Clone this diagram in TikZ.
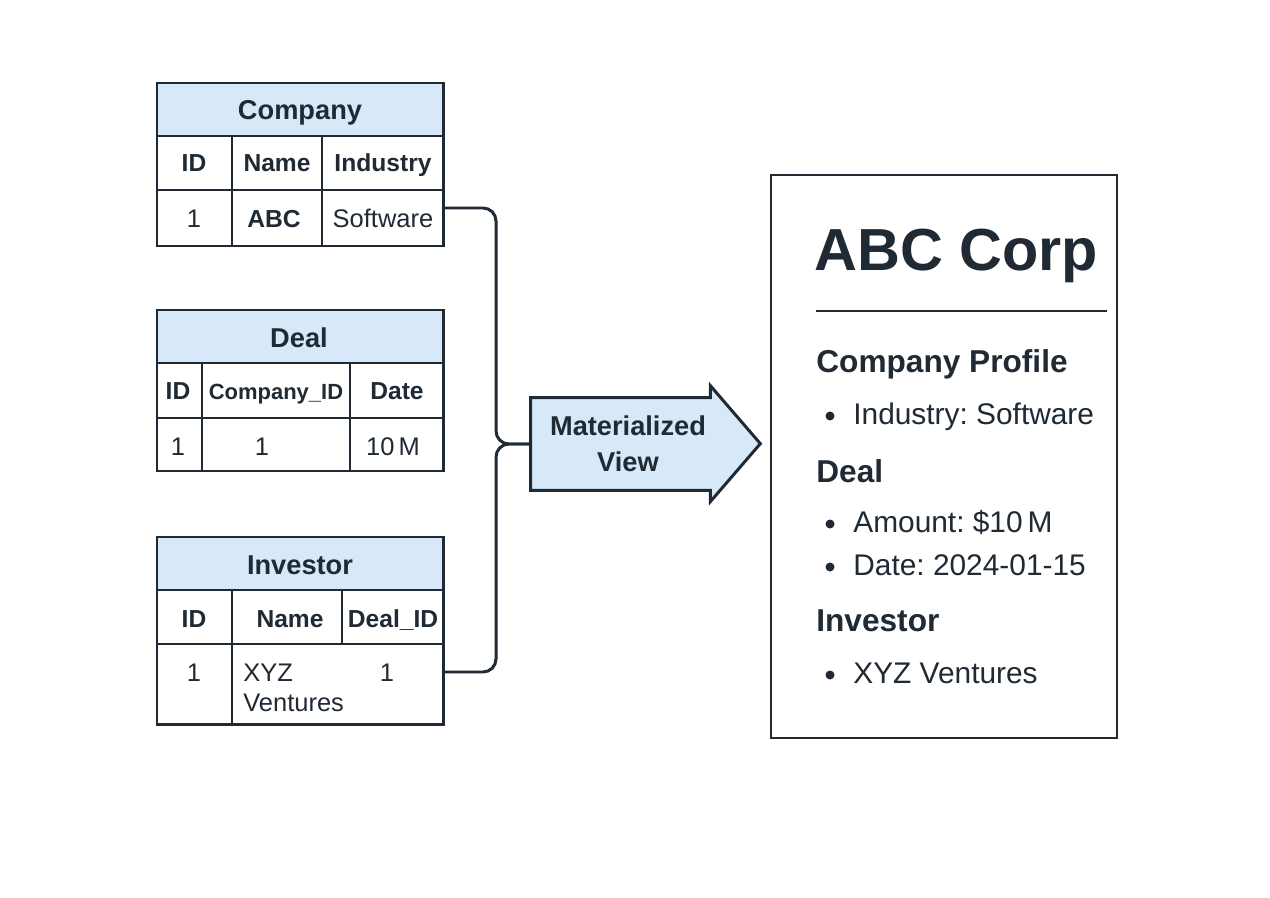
\documentclass[tikz,border=0pt]{standalone}
\usepackage{fontspec}
\setmainfont{Liberation Sans}
\usepackage{tikz}
\usetikzlibrary{positioning}
\frenchspacing

\definecolor{ink}{HTML}{1F2A35}
\definecolor{hdrblue}{HTML}{D7E9F8}

\tikzset{
  tbl/.style={draw=ink, line width=1.7pt},
  link/.style={draw=ink, line width=1.7pt, rounded corners=0.26cm},
  tbltitle/.style={font=\bfseries\fontsize{15.5}{18}\selectfont},
  colhead/.style={font=\bfseries\fontsize{14}{17}\selectfont},
  valcell/.style={font=\fontsize{14.5}{17}\selectfont},
  secthead/.style={anchor=base west, font=\bfseries\fontsize{18}{22}\selectfont},
  listitem/.style={anchor=base west, font=\fontsize{17}{20}\selectfont},
  bulletdot/.style={fill=ink},
}

\begin{document}
\begin{tikzpicture}[x=0.02cm, y=-0.02cm, every node/.style = {anchor=base, inner sep=0pt, text=ink}]
  \fill[white] (0,0) rectangle (1270,898);
  \useasboundingbox (0,0) rectangle (1270,898);

  % Company table
  \filldraw[tbl, fill=hdrblue] (157,83) rectangle (443,136);
  \draw[tbl] (157,136) rectangle (443,246);
  \draw[tbl] (157,190) -- (443,190) (232,136) -- (232,246) (322,136) -- (322,246);
  \node[tbltitle] (companyTitle) at (300,120) {Company};
  \node[colhead] (companyId) at (194,172) {ID};
  \node[colhead] (companyName) at (277,172) {Name};
  \node[colhead] (companyInd) at (383,172) {Industry};
  \node[valcell] (companyIdVal) at (194,228) {1};
  \node[valcell, font=\bfseries\fontsize{14}{17}\selectfont] (companyNameVal) at (274,228) {ABC};
  \node[valcell] (companyIndVal) at (383,228) {Software};
  \coordinate (companyOut) at (443,208);

  % Deal table
  \filldraw[tbl, fill=hdrblue] (157,310) rectangle (443,363);
  \draw[tbl] (157,363) rectangle (443,471);
  \draw[tbl] (157,418) -- (443,418) (202,363) -- (202,471) (350,363) -- (350,471);
  \node[tbltitle] (dealTitle) at (299,347) {Deal};
  \node[colhead] (dealId) at (178,399) {ID};
  \node[colhead, font=\bfseries\fontsize{12.5}{15}\selectfont] (dealCompany) at (276,399) {Company\_ID};
  \node[colhead] (dealDate) at (397,399) {Date};
  \node[valcell] (dealIdVal) at (178,455) {1};
  \node[valcell] (dealCompanyVal) at (262,455) {1};
  \node[valcell] (dealDateVal) at (393,455) {10\,M};

  % Investor table
  \filldraw[tbl, fill=hdrblue] (157,537) rectangle (443,590);
  \draw[tbl] (157,590) rectangle (443,724);
  \draw[tbl] (157,644) -- (443,644) (232,590) -- (232,724) (342,590) -- (342,644);
  \node[tbltitle] (investorTitle) at (300,574) {Investor};
  \node[colhead] (investorId) at (194,627) {ID};
  \node[colhead] (investorName) at (290,627) {Name};
  \node[colhead] (investorDeal) at (393,627) {Deal\_ID};
  \node[valcell] (investorIdVal) at (194,681) {1};
  \node[valcell, anchor=base west] (investorNameA) at (243,681) {XYZ};
  \node[valcell, anchor=base west] (investorNameB) at (243,711) {Ventures};
  \node[valcell] (investorDealVal) at (387,681) {1};
  \coordinate (investorOut) at (443,672);

  % materialized view arrow
  \node[anchor=center, minimum width=3.58cm, minimum height=1.84cm] (mview) at (620.5,444) {};
  \filldraw[tbl, fill=hdrblue, line join=miter]
    (mview.north west) -- (mview.north east) -- ++(0,-12) -- ++(50,58)
    -- ++(-50,58) -- (mview.south east) -- (mview.south west) -- cycle;
  \node[anchor=center, align=center, font=\bfseries\fontsize{15.5}{20.4}\selectfont] (mviewText) at (628,444) {Materialized\\View};

  % connectors
  \draw[link] (companyOut) -- ++(53,0) |- (mview.west);
  \draw[link] (investorOut) -- ++(53,0) |- (mview.west);

  % result page
  \draw[tbl, line width=1.5pt] (771,175) rectangle (1117,738);
  \node[anchor=base west, font=\bfseries\fontsize{33.8}{38}\selectfont] (pageTitle) at (814,271) {ABC Corp};
  \draw[ink, line width=1.4pt] (816,311) -- (1107,311);
  \node[secthead] (profileHead) at (816,372) {Company Profile};
  \fill[bulletdot] (830,416) circle (4.5);
  \node[listitem] (profileInd) at (853,424) {Industry: Software};
  \node[secthead] (dealHead) at (816,482) {Deal};
  \fill[bulletdot] (830,524) circle (4.5);
  \node[listitem] (dealAmount) at (853,532) {Amount: \$10\,M};
  \fill[bulletdot] (830,567) circle (4.5);
  \node[listitem] (dealDateItem) at (853,575) {Date: 2024-01-15};
  \node[secthead] (investorHead) at (816,631) {Investor};
  \fill[bulletdot] (830,675) circle (4.5);
  \node[listitem] (investorItem) at (853,683) {XYZ Ventures};
\end{tikzpicture}
\end{document}
